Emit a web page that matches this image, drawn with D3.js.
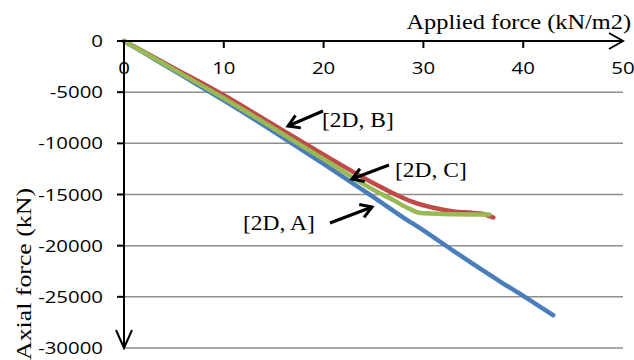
<!DOCTYPE html>
<html><head><meta charset="utf-8">
<script src="https://cdn.jsdelivr.net/npm/d3@7"></script>
<style>html,body{margin:0;padding:0;background:#fff;overflow:hidden}</style>
</head><body><svg id="c" width="634" height="360"></svg>
<script>
// ---- data ----
const xTicks = [0, 10, 20, 30, 40, 50];
const yTicks = [0, -5000, -10000, -15000, -20000, -25000, -30000];
const seriesA = [[0,0],[2,-1150],[5,-2900],[10,-5800],[15,-8850],[20,-12000],[25,-15250],[28,-17250],[30,-18500],[33,-20500],[35,-21800],[38,-23700],[40,-24900],[43,-26800]];
const seriesB = [[0,0],[5,-2650],[10,-5300],[15,-8200],[20,-11100],[25,-13900],[27,-14900],[29,-15750],[31,-16300],[33,-16650],[35,-16800],[36,-16900],[37,-17250]];
const seriesC = [[0,0],[5,-2800],[10,-5600],[15,-8550],[20,-11550],[25,-14550],[27,-15550],[28.5,-16350],[29.7,-16800],[32,-16900],[36.6,-16950]];
const seriesNames = ["[2D, A]", "[2D, B]", "[2D, C]"];
const xTitle = "Applied force (kN/m2)";
const yTitle = "Axial force (kN)";

const svg = d3.select("#c");
const x = d3.scaleLinear().domain([0, 50]).range([124, 623]);
const y = d3.scaleLinear().domain([0, -30000]).range([41, 348]);
const SERIF = "'Liberation Serif','Times New Roman',serif";
const SANS = "'Open Sans','Liberation Sans',sans-serif";

// gridlines
svg.append("g").selectAll("line").data(yTicks.filter(d => d !== 0)).join("line")
  .attr("x1", x(0)).attr("x2", x(50)).attr("y1", d => y(d)).attr("y2", d => y(d))
  .attr("stroke", "#8e8e8e").attr("stroke-width", 1.5);

// series lines
const line = d3.line().x(d => x(d[0])).y(d => y(d[1])).curve(d3.curveMonotoneX);
const colors = ["#4a7ebb", "#be4b48", "#98b954"];
[seriesA, seriesB, seriesC].forEach((s, i) => {
  svg.append("path").datum(s).attr("d", line).attr("fill", "none")
    .attr("stroke", colors[i]).attr("stroke-width", 4.5)
    .attr("stroke-linecap", "round").attr("stroke-linejoin", "round");
});

// axes
const ax = svg.append("g").attr("stroke", "#000").attr("stroke-width", 2).attr("fill", "none");
ax.append("line").attr("x1", x(0) - 7).attr("x2", x(50)).attr("y1", y(0)).attr("y2", y(0));
ax.append("path").attr("d", `M${x(50) - 14},${y(0) - 8} L${x(50)},${y(0)} L${x(50) - 14},${y(0) + 8}`);
ax.append("line").attr("x1", x(0)).attr("x2", x(0)).attr("y1", y(0)).attr("y2", y(-30000));
ax.append("path").attr("d", `M${x(0) - 8},${y(-30000) - 18} L${x(0)},${y(-30000)} L${x(0) + 8},${y(-30000) - 18}`);
ax.selectAll(".xt").data(xTicks.filter(d => d > 0 && d < 50)).join("line")
  .attr("x1", d => x(d)).attr("x2", d => x(d)).attr("y1", y(0)).attr("y2", y(0) + 7);
ax.selectAll(".yt").data(yTicks.filter(d => d !== -30000)).join("line")
  .attr("x1", x(0) - 7).attr("x2", x(0)).attr("y1", d => y(d)).attr("y2", d => y(d));

function stext(txt, px, py, size, fam, anchor, sx, rot) {
  const g = svg.append("g").attr("transform", `translate(${px},${py}) rotate(${rot || 0}) scale(${sx},1)`);
  return g.append("text").text(txt).attr("font-family", fam).attr("font-size", size)
    .attr("text-anchor", anchor).attr("fill", "#000");
}
// tick labels
xTicks.forEach(d => stext(String(d), x(d), 74, 17, SANS, "middle", 1.2));
yTicks.forEach(d => stext(String(d), 103, y(d) + 6, 17, SANS, "end", 1.2));

// titles
stext(xTitle, 631, 29, 21, SERIF, "end", 1.16);
stext(yTitle, 31, 274, 21, SERIF, "middle", 1.0, -90).attr("textLength", 172).attr("lengthAdjust", "spacingAndGlyphs");

// annotations
const ann = [
  {t: seriesNames[1], tx: 322, ty: 127, a: [323, 111, 288, 126]},
  {t: seriesNames[2], tx: 395, ty: 177, a: [389, 165, 352, 179]},
  {t: seriesNames[0], tx: 243, ty: 230, a: [330, 223, 372, 207]}
];
ann.forEach(o => {
  stext(o.t, o.tx, o.ty, 21, SERIF, "start", 1.12);
  const [x1, y1, x2, y2] = o.a;
  const ang = Math.atan2(y2 - y1, x2 - x1), L = 13, w = 0.55;
  const p1 = [x2 - L * Math.cos(ang - w), y2 - L * Math.sin(ang - w)];
  const p2 = [x2 - L * Math.cos(ang + w), y2 - L * Math.sin(ang + w)];
  svg.append("line").attr("x1", x1).attr("y1", y1).attr("x2", x2).attr("y2", y2)
    .attr("stroke", "#000").attr("stroke-width", 3);
  svg.append("path").attr("d", `M${p1} L${x2},${y2} L${p2}`).attr("fill", "none")
    .attr("stroke", "#000").attr("stroke-width", 3).attr("stroke-linejoin", "miter");
});
</script></body></html>
